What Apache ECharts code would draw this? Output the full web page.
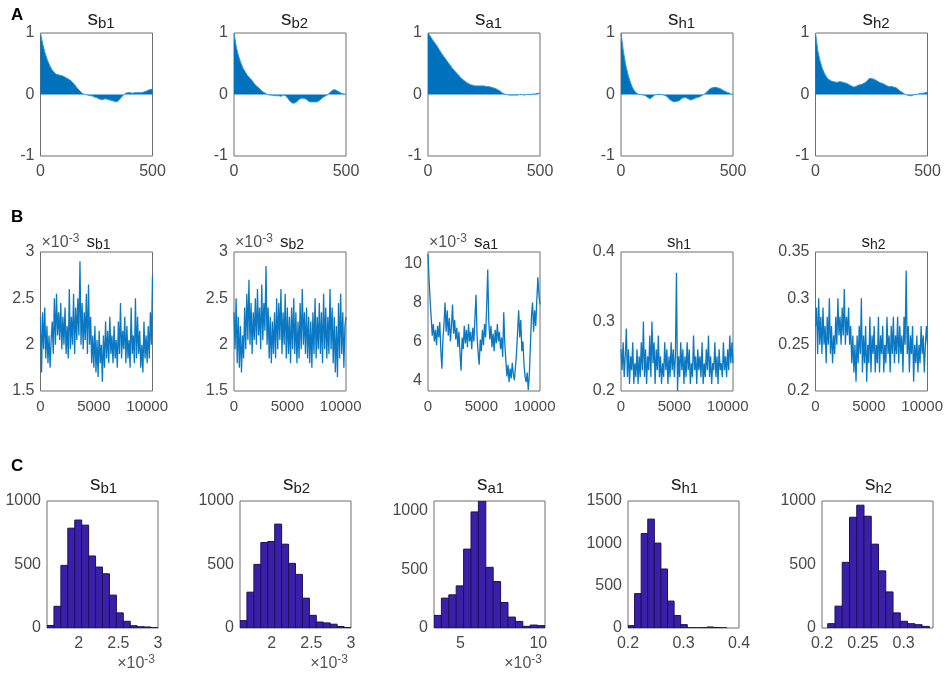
<!DOCTYPE html>
<html>
<head>
<meta charset="utf-8">
<title>s_b, s_a, s_h diagnostics</title>
<script src="https://cdn.jsdelivr.net/npm/echarts@6.0.0/dist/echarts.min.js"></script>
<style>
  html, body { margin: 0; padding: 0; background: #fff; }
  #main { width: 948px; height: 680px; }
</style>
</head>
<body>
<div id="main"></div>
<script>
var subNames = ['b1', 'b2', 'a1', 'h1', 'h2'];

// A: autocorrelation, one value every 10 lags (0..500)
var acfLagStep = 10;
var acfLagMax = 500;
var acfSb1 = [
  1.00, 0.82, 0.68, 0.57, 0.48, 0.41, 0.36, 0.33, 0.32, 0.31,
  0.30, 0.28, 0.26, 0.24, 0.21, 0.17, 0.12, 0.08, 0.04, 0.01,
  0.00, -0.01, -0.02, -0.02, -0.04, -0.05, -0.07, -0.08, -0.08, -0.07,
  -0.08, -0.09, -0.10, -0.11, -0.12, -0.09, -0.05, -0.01, 0.02, 0.03,
  0.03, 0.02, 0.03, 0.03, 0.03, 0.03, 0.04, 0.05, 0.07, 0.08,
  0.09
];
var acfSb2 = [
  1.00, 0.78, 0.63, 0.52, 0.43, 0.37, 0.31, 0.27, 0.23, 0.18,
  0.14, 0.11, 0.07, 0.04, 0.02, 0.00, -0.01, -0.01, -0.02, -0.02,
  -0.02, -0.03, -0.01, -0.02, -0.06, -0.11, -0.14, -0.14, -0.12, -0.08,
  -0.06, -0.06, -0.07, -0.10, -0.12, -0.12, -0.12, -0.12, -0.10, -0.07,
  -0.04, -0.02, 0.00, 0.04, 0.07, 0.08, 0.06, 0.04, 0.02, 0.01,
  0.00
];
var acfSa1 = [
  1.00, 0.95, 0.89, 0.84, 0.79, 0.73, 0.67, 0.62, 0.57, 0.52,
  0.47, 0.42, 0.38, 0.34, 0.30, 0.26, 0.23, 0.20, 0.18, 0.16,
  0.15, 0.14, 0.14, 0.14, 0.14, 0.14, 0.13, 0.13, 0.12, 0.11,
  0.10, 0.08, 0.06, 0.03, 0.01, 0.00, -0.01, -0.01, -0.01, -0.01,
  -0.01, 0.00, 0.00, -0.01, 0.00, 0.00, 0.00, 0.01, 0.01, 0.02,
  0.02
];
var acfSh1 = [
  1.00, 0.72, 0.50, 0.34, 0.22, 0.12, 0.06, 0.02, 0.00, 0.00,
  -0.01, -0.02, -0.05, -0.07, -0.04, -0.01, 0.00, 0.00, 0.00, -0.01,
  -0.02, -0.05, -0.09, -0.11, -0.12, -0.11, -0.10, -0.07, -0.05, -0.05,
  -0.07, -0.09, -0.08, -0.06, -0.05, -0.04, -0.02, 0.00, 0.03, 0.07,
  0.10, 0.11, 0.12, 0.11, 0.10, 0.08, 0.06, 0.04, 0.03, 0.01,
  0.00
];
var acfSh2 = [
  1.00, 0.72, 0.55, 0.43, 0.34, 0.28, 0.24, 0.22, 0.21, 0.20,
  0.20, 0.21, 0.20, 0.19, 0.18, 0.16, 0.14, 0.12, 0.13, 0.15,
  0.16, 0.17, 0.19, 0.22, 0.26, 0.26, 0.25, 0.23, 0.21, 0.19,
  0.18, 0.16, 0.14, 0.13, 0.13, 0.12, 0.11, 0.08, 0.05, 0.03,
  0.00, -0.01, -0.02, -0.02, 0.00, 0.00, 0.01, 0.02, 0.02, 0.03,
  0.04
];

// B: traces, one value every 100 iterations (0..10500); s_b and s_a are in units of 1e-3
var traceStep = 100;
var traceIterMax = 10500;
var traceSb1 = [
  2.30, 1.70, 2.35, 1.95, 2.40, 1.85, 2.20, 1.80, 2.10, 1.75,
  2.05, 2.25, 1.90, 2.50, 2.00, 2.55, 2.10, 2.35, 2.05, 2.45,
  1.95, 2.30, 2.00, 2.40, 1.90, 2.20, 1.85, 2.60, 1.95, 2.30,
  2.00, 2.55, 1.90, 2.40, 2.05, 2.50, 2.10, 2.90, 2.00, 2.45,
  1.95, 2.35, 2.05, 2.55, 1.90, 2.65, 2.00, 2.30, 1.80, 2.10,
  1.75, 2.20, 1.70, 2.05, 1.65, 2.15, 1.80, 2.00, 1.60, 2.10,
  1.75, 2.25, 1.85, 2.15, 1.80, 2.30, 1.90, 2.10, 1.80, 2.20,
  1.85, 2.05, 1.75, 2.25, 1.90, 2.45, 1.85, 2.15, 1.95, 2.30,
  1.80, 2.20, 1.85, 2.05, 1.75, 2.40, 1.90, 2.10, 1.80, 2.50,
  1.85, 2.30, 1.90, 2.15, 1.75, 2.00, 1.70, 2.25, 1.85, 2.10,
  1.80, 2.20, 1.85, 2.35, 2.00, 2.75
];
var traceSb2 = [
  2.35, 1.95, 2.50, 1.80, 2.30, 1.75, 2.20, 1.70, 2.10, 1.85,
  2.40, 1.95, 2.55, 2.05, 2.70, 2.00, 2.45, 1.90, 2.35, 2.05,
  2.50, 2.00, 2.60, 2.10, 2.40, 1.95, 2.65, 2.05, 2.45, 2.15,
  2.85, 2.00, 2.40, 1.85, 2.30, 1.80, 2.25, 1.90, 2.35, 1.85,
  2.50, 1.95, 2.45, 2.05, 2.60, 1.90, 2.35, 2.00, 2.55, 1.85,
  2.40, 1.90, 2.30, 1.80, 2.40, 1.95, 2.50, 1.90, 2.35, 1.80,
  2.25, 1.85, 2.45, 1.95, 2.60, 2.00, 2.35, 1.90, 2.40, 1.85,
  2.30, 1.80, 2.25, 1.75, 2.35, 1.90, 2.50, 1.85, 2.30, 1.95,
  2.45, 1.90, 2.35, 1.80, 2.55, 1.95, 2.40, 1.85, 2.30, 1.90,
  2.60, 1.95, 2.40, 1.80, 2.30, 1.70, 2.20, 1.65, 2.45, 1.85,
  2.55, 1.90, 2.35, 1.75, 2.20, 2.30
];
var traceSa1 = [
  10.5, 9.2, 8.1, 7.2, 6.3, 6.9, 6.0, 6.6, 5.8, 6.8,
  6.2, 7.0, 5.6, 4.6, 6.1, 6.9, 8.0, 6.5, 7.6, 6.3,
  7.2, 6.0, 6.8, 7.9, 6.4, 7.1, 6.1, 6.7, 5.7, 6.5,
  5.4, 4.5, 6.2, 5.6, 6.8, 5.9, 6.6, 5.7, 6.9, 6.0,
  6.5, 5.6, 6.7, 6.0, 7.2, 8.4, 6.3, 5.4, 4.8, 6.1,
  5.5, 6.6, 5.8, 6.9, 6.2, 7.8, 9.7, 7.0, 6.1, 6.8,
  5.7, 6.4, 5.5, 6.6, 5.9, 6.9, 6.0, 6.5, 5.6, 6.2,
  5.2, 7.5, 5.9, 5.0, 4.2, 4.8, 3.9, 4.6, 4.1, 4.9,
  4.3, 4.0, 4.7, 5.4, 6.5, 7.6, 6.2, 7.1, 5.5, 6.0,
  4.8, 4.2, 3.9, 4.4, 3.5, 4.3, 5.8, 7.3, 8.0, 6.5,
  7.6, 6.8, 8.1, 9.3, 8.4, 7.9
];
var traceSh1 = [
  0.26, 0.23, 0.27, 0.22, 0.25, 0.29, 0.22, 0.26, 0.21, 0.25,
  0.23, 0.27, 0.21, 0.24, 0.22, 0.26, 0.21, 0.25, 0.22, 0.27,
  0.23, 0.30, 0.22, 0.26, 0.21, 0.25, 0.23, 0.28, 0.22, 0.30,
  0.24, 0.27, 0.21, 0.26, 0.23, 0.28, 0.22, 0.25, 0.21, 0.24,
  0.22, 0.27, 0.23, 0.26, 0.21, 0.25, 0.22, 0.27, 0.23, 0.26,
  0.22, 0.25, 0.37, 0.20, 0.25, 0.22, 0.27, 0.23, 0.26, 0.21,
  0.25, 0.22, 0.27, 0.23, 0.26, 0.21, 0.24, 0.22, 0.28, 0.23,
  0.25, 0.21, 0.26, 0.23, 0.25, 0.22, 0.27, 0.21, 0.24, 0.22,
  0.26, 0.23, 0.28, 0.22, 0.25, 0.21, 0.24, 0.23, 0.27, 0.22,
  0.25, 0.21, 0.26, 0.23, 0.24, 0.22, 0.27, 0.23, 0.25, 0.22,
  0.26, 0.23, 0.28, 0.24, 0.27, 0.24
];
var traceSh2 = [
  0.27, 0.29, 0.24, 0.30, 0.25, 0.28, 0.24, 0.29, 0.25, 0.27,
  0.23, 0.28, 0.25, 0.30, 0.24, 0.27, 0.23, 0.26, 0.24, 0.28,
  0.25, 0.30, 0.26, 0.28, 0.25, 0.29, 0.26, 0.31, 0.25, 0.28,
  0.26, 0.29, 0.25, 0.27, 0.23, 0.26, 0.22, 0.25, 0.21, 0.26,
  0.23, 0.27, 0.24, 0.30, 0.22, 0.26, 0.23, 0.27, 0.21, 0.25,
  0.23, 0.28, 0.22, 0.26, 0.24, 0.27, 0.22, 0.25, 0.23, 0.28,
  0.22, 0.26, 0.24, 0.27, 0.22, 0.25, 0.23, 0.28, 0.24, 0.26,
  0.22, 0.27, 0.24, 0.28, 0.23, 0.26, 0.24, 0.28, 0.23, 0.27,
  0.24, 0.26, 0.22, 0.28, 0.25, 0.33, 0.24, 0.27, 0.22, 0.26,
  0.24, 0.27, 0.21, 0.25, 0.23, 0.26, 0.22, 0.25, 0.23, 0.27,
  0.24, 0.26, 0.22, 0.25, 0.27, 0.25
];
var traceYMin = [1.5, 1.5, 3.45, 0.2, 0.2];
var traceYMax = [3, 3, 10.6, 0.4, 0.35];
var traceYTicks = [[1.5, 2, 2.5, 3], [1.5, 2, 2.5, 3], [4, 6, 8, 10], [0.2, 0.3, 0.4], [0.2, 0.25, 0.3, 0.35]];
var traceXTicks = [0, 5000, 10000];

// C: posterior histograms, counts per bin; bins split [histBinFrom, histBinTo] evenly
var histSb1 = [20, 171, 493, 786, 850, 810, 567, 480, 427, 259, 119, 53, 18, 10, 8, 2];
var histSb2 = [58, 282, 501, 673, 681, 818, 660, 509, 422, 235, 100, 47, 40, 30, 12, 4];
var histSa1 = [107, 254, 282, 358, 671, 987, 1080, 516, 395, 217, 93, 56, 14, 25, 20];
var histSh1 = [28, 406, 1115, 1286, 1003, 697, 318, 147, 40, 3, 2, 4, 12, 6, 2];
var histSh2 = [34, 172, 517, 872, 967, 880, 660, 450, 284, 119, 53, 34, 26, 13];
var histBinFrom = [1.6, 1.6, 3.3, 0.2, 0.207];
var histBinTo = [3.0, 3.0, 10.43, 0.378, 0.3315];
var histXMin = [1.6, 1.6, 3.3, 0.2, 0.2];
var histXMax = [3.0, 3.0, 10.43, 0.4, 0.336];
var histXTicks = [[2, 2.5, 3], [2, 2.5, 3], [5, 10], [0.2, 0.3, 0.4], [0.2, 0.25, 0.3]];
var histYMax = [1000, 1000, 1080, 1500, 1000];
var histYTicks = [[0, 500, 1000], [0, 500, 1000], [0, 500, 1000], [0, 500, 1000, 1500], [0, 500, 1000]];

var FONT = '"Liberation Sans", Arial, Helvetica, sans-serif';
var tickColor = '#4a4a4a';
var boxColor = '#6e6e6e';

// layout (px)
var colLeftAB = [40.5, 234, 428, 621, 815.5];
var colLeftC = [47, 240, 434, 628, 822];
var rowTop = [33, 252, 501];
var rowHeight = [123, 139, 127];
var boxWidthAB = 112, boxWidthC = 111;

var grids = [], xAxes = [], yAxes = [], series = [], titles = [];

function plainNumber(v) { return String(v); }

function axisLabelStyle(ticks, margin, size) {
    return {
        customValues: ticks,
        margin: margin,
        color: tickColor,
        fontSize: size,
        fontFamily: FONT,
        formatter: plainNumber
    };
}

function addPanel(left, top, width, height, xMin, xMax, xTicks, yMin, yMax, yTicks, xFont) {
    var idx = grids.length;
    grids.push({
        left: left, top: top, width: width, height: height,
        show: true, borderColor: boxColor, borderWidth: 1,
        backgroundColor: 'transparent',
        outerBoundsMode: 'none'
    });
    xAxes.push({
        type: 'value', gridIndex: idx, min: xMin, max: xMax,
        axisLine: {show: false}, axisTick: {show: false}, splitLine: {show: false},
        axisLabel: axisLabelStyle(xTicks, 8, xFont)
    });
    yAxes.push({
        type: 'value', gridIndex: idx, min: yMin, max: yMax,
        axisLine: {show: false}, axisTick: {show: false}, splitLine: {show: false},
        axisLabel: axisLabelStyle(yTicks, 6, 16)
    });
    return idx;
}

// "s" with a lowered subscript; big = size of the s
function addTitle(sub, left, top, big, small) {
    titles.push({
        text: '{s|s}{sub|' + sub + '}',
        left: left, top: top, padding: 0,
        textStyle: {
            fontWeight: 'normal',
            rich: {
                s: {fontSize: big, lineHeight: big + 2, color: '#222', fontFamily: FONT, fontWeight: 'normal'},
                sub: {fontSize: small, lineHeight: 4, verticalAlign: 'bottom', color: '#222', fontFamily: FONT, fontWeight: 'normal'}
            }
        }
    });
}

function addExponent(pos) {
    var t = {
        text: '{a|×10}{sup|-3}',
        padding: 0,
        textStyle: {
            fontWeight: 'normal',
            rich: {
                a: {fontSize: 16, lineHeight: 20, color: '#555', fontFamily: FONT, fontWeight: 'normal'},
                sup: {fontSize: 12, lineHeight: 8, verticalAlign: 'top', color: '#555', fontFamily: FONT, fontWeight: 'normal'}
            }
        }
    };
    for (var k in pos) t[k] = pos[k];
    titles.push(t);
}

// panel letters
[['A', 7], ['B', 209], ['C', 458]].forEach(function (p) {
    titles.push({
        text: p[0], left: 11, top: p[1], padding: 0,
        textStyle: {fontSize: 17, fontWeight: 'bold', color: '#000', fontFamily: FONT}
    });
});

// row A: autocorrelation
var acfData = [acfSb1, acfSb2, acfSa1, acfSh1, acfSh2];
acfData.forEach(function (vals, i) {
    var g = addPanel(colLeftAB[i], rowTop[0], boxWidthAB, rowHeight[0],
        0, acfLagMax, [0, acfLagMax], -1, 1, [-1, 0, 1], 16);
    series.push({
        type: 'line', xAxisIndex: g, yAxisIndex: g,
        data: vals.map(function (v, k) { return [k * acfLagStep, v]; }),
        symbol: 'none',
        lineStyle: {color: '#2a9be0', width: 1},
        areaStyle: {color: '#0072bd', opacity: 1, origin: 0}
    });
    addTitle(subNames[i], colLeftAB[i] + 47, 8, 21, 15);
});

// row B: traces
var traceData = [traceSb1, traceSb2, traceSa1, traceSh1, traceSh2];
traceData.forEach(function (vals, i) {
    var g = addPanel(colLeftAB[i], rowTop[1], boxWidthAB, rowHeight[1],
        0, traceIterMax, traceXTicks, traceYMin[i], traceYMax[i], traceYTicks[i], 15);
    series.push({
        type: 'line', xAxisIndex: g, yAxisIndex: g,
        data: vals.map(function (v, k) { return [k * traceStep, v]; }),
        symbol: 'none',
        lineStyle: {color: '#0a78c2', width: 1.3}
    });
    addTitle(subNames[i], colLeftAB[i] + 46, 233, 17, 14);
    if (i < 3) addExponent({left: colLeftAB[i] + 1, top: 233});
});

// row C: histograms
function renderBin(params, api) {
    var lo = api.coord([api.value(0), 0]);
    var hi = api.coord([api.value(1), api.value(2)]);
    return {
        type: 'rect',
        shape: {x: lo[0], y: hi[1], width: hi[0] - lo[0], height: lo[1] - hi[1]},
        style: {fill: '#3a20a8', stroke: '#1c1058', lineWidth: 1}
    };
}

var histData = [histSb1, histSb2, histSa1, histSh1, histSh2];
histData.forEach(function (counts, i) {
    var g = addPanel(colLeftC[i], rowTop[2], boxWidthC, rowHeight[2],
        histXMin[i], histXMax[i], histXTicks[i], 0, histYMax[i], histYTicks[i], 16);
    var w = (histBinTo[i] - histBinFrom[i]) / counts.length;
    series.push({
        type: 'custom', xAxisIndex: g, yAxisIndex: g,
        renderItem: renderBin,
        clip: true,
        encode: {x: [0, 1], y: 2},
        data: counts.map(function (c, k) {
            return [histBinFrom[i] + k * w, histBinFrom[i] + (k + 1) * w, c];
        })
    });
    addTitle(subNames[i], colLeftC[i] + 43, 473, 21, 15);
    if (i < 3) addExponent({right: 948 - (colLeftC[i] + boxWidthC - 3), top: 654});
});

var myChart = echarts.init(document.getElementById('main'));
myChart.setOption({
    animation: false,
    backgroundColor: '#fff',
    title: titles,
    grid: grids,
    xAxis: xAxes,
    yAxis: yAxes,
    series: series
});
</script>
</body>
</html>
